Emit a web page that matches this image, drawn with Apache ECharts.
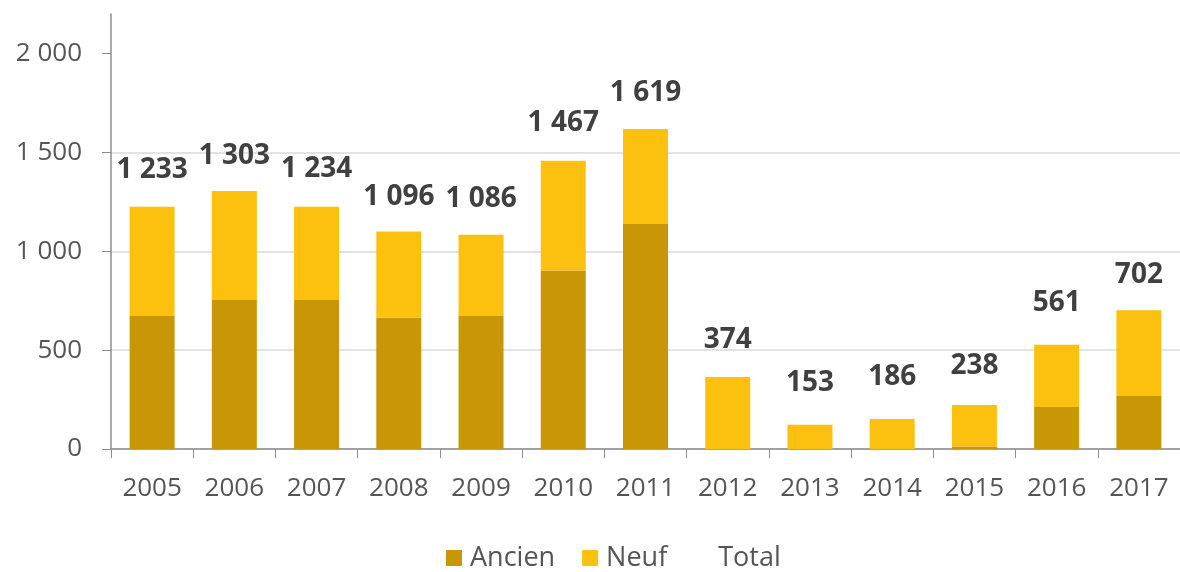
<!DOCTYPE html>
<html><head><meta charset="utf-8">
<script src="https://cdn.jsdelivr.net/npm/echarts@6/dist/echarts.min.js"></script>
<style>html,body{margin:0;padding:0;background:#fff}#c{width:1180px;height:572px}</style>
</head><body><div id="c"></div>
<script>
const categories = ['2005','2006','2007','2008','2009','2010','2011','2012','2013','2014','2015','2016','2017'];
const ancien = [673, 753, 753, 664, 673, 903, 1138, 0, 0, 0, 13, 213, 268];
const neuf = [552, 552, 472, 436, 410, 555, 481, 364, 123, 152, 210, 314, 434];
const total = [1233, 1303, 1234, 1096, 1086, 1467, 1619, 374, 153, 186, 238, 561, 702];
const yTicks = [0, 500, 1000, 1500, 2000];

const fmt = v => String(v).replace(/\B(?=(\d{3})+(?!\d))/g, ' ');
const FONT = '"Open Sans", "DejaVu Sans", sans-serif';

const chart = echarts.init(document.getElementById('c'));
chart.setOption({
  animation: false,
  textStyle: { fontFamily: FONT },
  grid: { left: 111, right: 0, top: 14, bottom: 123, containLabel: false },
  legend: {
    top: 544,
    left: 446,
    padding: 0,
    itemWidth: 16, itemHeight: 16, itemGap: 27,
    textStyle: { fontSize: 27, lineHeight: 28, color: '#555', fontFamily: FONT, padding: [0,0,0,3] },
    data: [
      { name: 'Ancien', icon: 'rect' },
      { name: 'Neuf', icon: 'rect' },
      { name: 'Total', icon: 'rect', itemStyle: { opacity: 0 } }
    ]
  },
  xAxis: {
    type: 'category',
    data: categories,
    axisLine: { lineStyle: { color: '#8c8c8c', width: 1.5 } },
    axisTick: { show: true, length: 9, lineStyle: { color: '#8c8c8c' } },
    axisLabel: { fontSize: 26, color: '#555', margin: 27, fontFamily: FONT }
  },
  yAxis: {
    type: 'value',
    min: 0, max: 2200, interval: 500,
    axisLine: { show: true, lineStyle: { color: '#8c8c8c', width: 1.5 } },
    axisTick: { show: true, length: 9, lineStyle: { color: '#8c8c8c' }, customValues: yTicks },
    axisLabel: { fontSize: 26, color: '#555', margin: 29, fontFamily: FONT, customValues: yTicks, formatter: v => fmt(v) },
    splitLine: { show: true, showMaxLine: false, lineStyle: { color: '#d9d9d9', width: 1.5 } }
  },
  series: [
    { name: 'Ancien', type: 'bar', stack: 's', data: ancien, barWidth: 45, itemStyle: { color: '#C89606' } },
    { name: 'Neuf', type: 'bar', stack: 's', data: neuf, barWidth: 45, itemStyle: { color: '#FCC00F' } },
    {
      name: 'Total', type: 'line', data: total,
      symbol: 'circle', symbolSize: 1,
      itemStyle: { color: 'rgba(0,0,0,0)' },
      lineStyle: { width: 0, opacity: 0 },
      label: {
        show: true, position: 'top', distance: 21,
        fontSize: 28, lineHeight: 28, fontWeight: 'bold', color: '#404040', fontFamily: FONT,
        formatter: p => fmt(p.value)
      },
      z: 5
    }
  ]
});
</script></body></html>
